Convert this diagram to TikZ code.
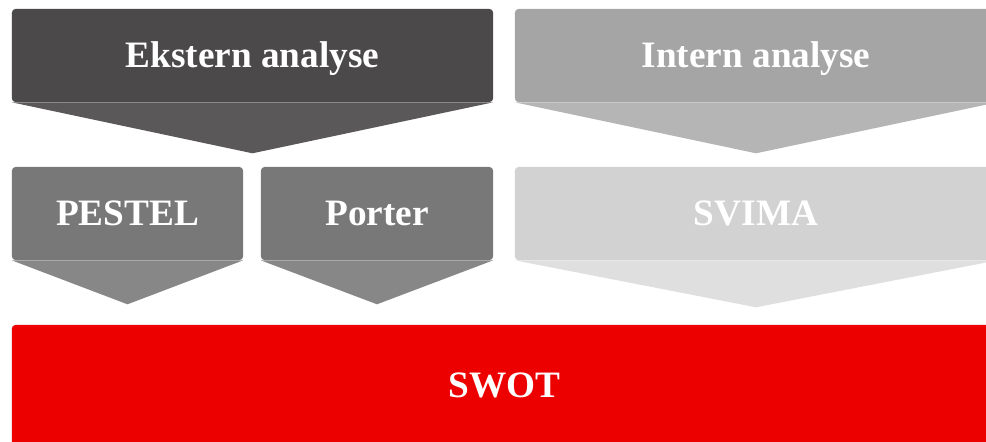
\documentclass[tikz,border=0pt]{standalone}
\usepackage{fontspec}
\setmainfont{Liberation Serif}
\usepackage{xcolor}
\usepackage{tikz}
\usetikzlibrary{positioning,calc}

\definecolor{eksternbg}{HTML}{4B4949}
\definecolor{eksterntip}{HTML}{5A5858}
\definecolor{internbg}{HTML}{A5A5A5}
\definecolor{interntip}{HTML}{B5B5B5}
\definecolor{toolbg}{HTML}{777877}
\definecolor{tooltip}{HTML}{878787}
\definecolor{svimabg}{HTML}{D2D2D2}
\definecolor{svimatip}{HTML}{DFDFDF}
\definecolor{swotred}{HTML}{EC0000}

\newcommand{\downtip}[3]{\fill[#2] (#1.south west) -- (#1.south east) -- ($(#1.south)+(0,#3)$) -- cycle;}

\begin{document}
\begin{tikzpicture}[x=0.025cm, y=-0.025cm,
    stage/.style={rectangle, rounded corners=2.5pt, inner sep=0pt, text=white,
        font=\bfseries\fontsize{26.5}{30}\selectfont, text height=17.5pt, text depth=0pt,
        minimum height=2.325cm}]
\useasboundingbox (0,0) rectangle (986,441);
\clip (0,0) rectangle (986,441);

\node[stage, fill=eksternbg, minimum width=12.025cm] (ekstern) at (252.5,55.5) {Ekstern analyse};
\node[stage, fill=internbg, minimum width=12.05cm] (intern) at (756,55.5) {Intern analyse};
\downtip{ekstern}{eksterntip}{51}
\downtip{intern}{interntip}{51}

\node[stage, fill=toolbg, minimum width=5.775cm] (pestel) at (127.5,213.5) {PESTEL};
\node[stage, fill=toolbg, minimum width=5.8cm] (porter) at (377,213.5) {Porter};
\node[stage, fill=svimabg, minimum width=12.05cm] (svima) at (756,213.5) {SVIMA};
\downtip{pestel}{tooltip}{44}
\downtip{porter}{tooltip}{44}
\downtip{svima}{svimatip}{47}

\node[stage, fill=swotred, minimum width=24.625cm, minimum height=3cm] (swot) at (504.5,385) {SWOT};
\end{tikzpicture}
\end{document}
